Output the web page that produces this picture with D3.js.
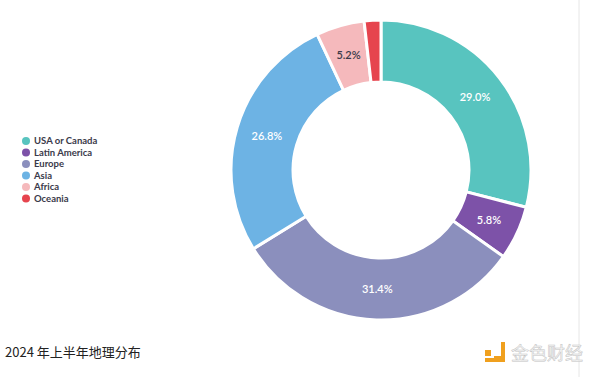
<!DOCTYPE html>
<html>
<head>
<meta charset="utf-8">
<script src="https://cdn.jsdelivr.net/npm/d3@7"></script>
<style>
  body { margin: 0; background: #fff; }
  svg { display: block; font-family: Lato, "Noto Sans", sans-serif; }
</style>
</head>
<body>
<div id="chart"></div>
<script>
// data
const regions = ["USA or Canada", "Latin America", "Europe", "Asia", "Africa", "Oceania"];
const shares = [29.0, 5.8, 31.4, 26.8, 5.2, 1.8];
const colors = ["#58c4bf", "#7d52a8", "#8b8fbd", "#6db3e4", "#f5b9bc", "#e6444e"];
const labelColors = ["#fff", "#fff", "#fff", "#fff", "#3a3a4a", "#fff"];
const title = "2024 年上半年地理分布";

const width = 600, height = 377;
const cx = 381, cy = 170;
const outerR = 150, innerR = 88;

const svg = d3.select("#chart").append("svg")
    .attr("width", width)
    .attr("height", height);

const data = regions.map((r, i) => ({ region: r, value: shares[i], color: colors[i], lc: labelColors[i] }));

const pie = d3.pie().sort(null).value(d => d.value);
const arc = d3.arc().innerRadius(innerR).outerRadius(outerR);

const g = svg.append("g").attr("transform", `translate(${cx},${cy})`);

g.selectAll("path.slice")
    .data(pie(data))
    .enter()
    .append("path")
    .attr("class", "slice")
    .attr("d", arc)
    .attr("fill", d => d.data.color)
    .attr("stroke", "#fff")
    .attr("stroke-width", 3);

// percent labels, skip the tiny one
g.selectAll("text.pct")
    .data(pie(data).filter(d => d.data.value >= 5))
    .enter()
    .append("text")
    .attr("class", "pct")
    .attr("transform", d => `translate(${arc.centroid(d)})`)
    .attr("text-anchor", "middle")
    .attr("dy", "0.35em")
    .attr("font-size", "11px")
    .attr("font-weight", 600)
    .attr("fill", d => d.data.lc)
    .text(d => d.data.value.toFixed(1) + "%");

// legend
const legend = svg.append("g").attr("transform", "translate(26,141)");
const rows = legend.selectAll("g.row")
    .data(data)
    .enter()
    .append("g")
    .attr("class", "row")
    .attr("transform", (d, i) => `translate(0,${i * 11.5})`);

rows.append("circle")
    .attr("r", 4)
    .attr("fill", d => d.color);

rows.append("text")
    .attr("x", 8)
    .attr("dy", "0.35em")
    .attr("font-size", "9.5px")
    .attr("font-weight", 700)
    .attr("fill", "#3a3a4a")
    .text(d => d.region);

// title
svg.append("text")
    .attr("x", 5)
    .attr("y", 357)
    .attr("font-family", "'Noto Sans CJK SC', 'Noto Sans', sans-serif")
    .attr("font-size", "13px")
    .attr("fill", "#222")
    .text(title);

// right edge line
svg.append("line")
    .attr("x1", 579).attr("x2", 579)
    .attr("y1", 0).attr("y2", height)
    .attr("stroke", "#e6e6e6")
    .attr("stroke-width", 1);

// watermark
const wm = svg.append("g").attr("transform", "translate(485,340)");
wm.append("rect").attr("x", 0).attr("y", 10).attr("width", 6).attr("height", 6).attr("fill", "#f0a01e");
wm.append("path")
    .attr("d", "M9,16 L16,16 L16,2 L20,2 L20,22 L0,22 L0,18 L9,18 Z")
    .attr("fill", "#f0a01e");
wm.append("text")
    .attr("x", 26)
    .attr("y", 20)
    .attr("font-family", "'Noto Sans CJK SC', sans-serif")
    .attr("font-size", "18px")
    .attr("fill", "#f7f7f7")
    .attr("stroke", "#c4c4c4")
    .attr("stroke-width", 0.5)
    .text("金色财经");
</script>
</body>
</html>
